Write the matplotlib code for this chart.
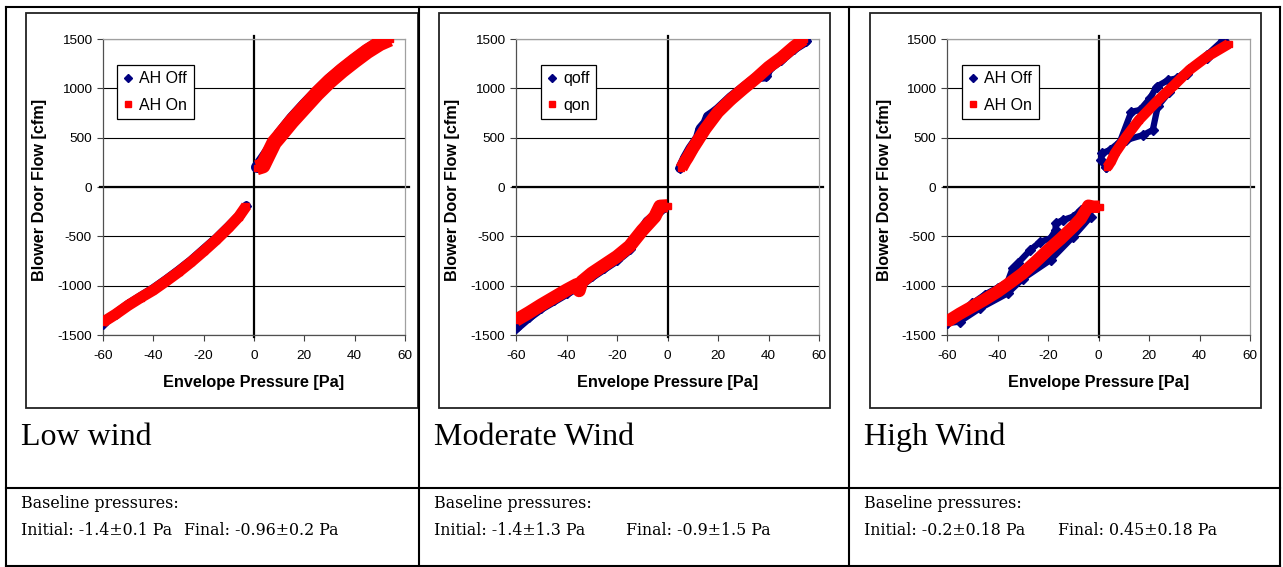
import numpy as np
import matplotlib
matplotlib.use("Agg")
import matplotlib.pyplot as plt
from matplotlib.lines import Line2D
from matplotlib.patches import Rectangle

nan = np.nan

# ---------------- data ----------------
x_ticks = [-60, -40, -20, 0, 20, 40, 60]
y_ticks = [-1500, -1000, -500, 0, 500, 1000, 1500]
x_label = "Envelope Pressure [Pa]"
y_label = "Blower Door Flow [cfm]"

captions = ["Low wind", "Moderate Wind", "High Wind"]
baseline_head = "Baseline pressures:"
initial_text = ["Initial: -1.4±0.1 Pa", "Initial: -1.4±1.3 Pa", "Initial: -0.2±0.18 Pa"]
final_text = ["Final: -0.96±0.2 Pa", "Final: -0.9±1.5 Pa", "Final: 0.45±0.18 Pa"]
legend_labels = [("AH Off", "AH On"), ("qoff", "qon"), ("AH Off", "AH On")]

# Low wind
low_off_p = [-60, -55, -50, -45, -40, -35, -30, -25, -20, -15, -10, -6, -3, nan,
             1, 3, 6, 10, 15, 20, 25, 30, 35, 40, 45, 50, 53]
low_off_q = [-1385, -1285, -1190, -1110, -1030, -940, -845, -745, -632, -520, -395, -292, -190, nan,
             200, 270, 380, 540, 700, 840, 970, 1095, 1200, 1300, 1395, 1475, 1500]
low_on_p = [-60, -55, -50, -45, -40, -35, -30, -25, -20, -15, -10, -6, -3, nan,
            1, 3.5, 5.5, 8, 10, 15, 20, 25, 30, 35, 40, 45, 50, 54]
low_on_q = [-1370, -1290, -1200, -1120, -1045, -955, -862, -760, -650, -535, -410, -300, -190, nan,
            195, 215, 320, 450, 510, 665, 805, 945, 1070, 1180, 1280, 1375, 1455, 1500]

# Moderate wind
mod_off_p = [-60, -55, -50, -45, -40, -35, -30, -25, -20, -15, -8, -5, -1, nan,
             5, 7, 9, 12, 13, 15, 16, 18, 20, 25, 30, 35, 39, 40, 45, 50, 55]
mod_off_q = [-1430, -1320, -1225, -1150, -1075, -1000, -905, -820, -735, -630, -350, -290, -200, nan,
             190, 300, 390, 500, 590, 650, 715, 750, 790, 910, 1010, 1110, 1120, 1200, 1290, 1400, 1480]
mod_on_p = [-60, -55, -50, -45, -40, -36, -35, -34, -30, -25, -20, -15, -10, -5, -3, 0, nan,
            5.5, 7, 8, 10, 12, 15, 20, 25, 30, 35, 40, 45, 50, 54]
mod_on_q = [-1350, -1275, -1195, -1120, -1045, -990, -1050, -960, -875, -790, -705, -600, -440, -300, -195, -190, nan,
            190, 260, 300, 390, 470, 590, 760, 885, 995, 1100, 1215, 1310, 1420, 1495]

# High wind
high_off_p = [-60, -55, -50, -45, -40, -36, -34, -32, -27, -23, -19, -17, -17, -14, -10, -7, -4,
              -3, -10, -19, -30, -36, -47, -55, -60, nan,
              3, 1, 1.3, 4.5, 8.5, 13, 16.4, 20.4, 23, 27.6, 31, 36, 43, 49.4,
              50.5, 43, 35, 28, 23.5, 21.5, 17.7, 11, 6, 3]
high_off_q = [-1380, -1300, -1180, -1090, -1020, -960, -824, -774, -638, -554, -520, -436, -368, -334, -300, -233, -199,
              -300, -503, -740, -930, -1078, -1230, -1365, -1380, nan,
              206, 274, 341, 375, 459, 763, 780, 899, 1017, 1084, 1101, 1200, 1340, 1490,
              1460, 1310, 1150, 960, 820, 578, 527, 476, 330, 200]
high_on_p = [-60, -55, -50, -45, -40, -35, -30, -25, -20, -15, -10, -7, -4, -2, 0.5, nan,
             3.5, 5, 6.5, 11, 16, 23, 30, 36, 43, 51.5]
high_on_q = [-1365, -1285, -1213, -1140, -1061, -970, -875, -760, -638, -525, -402, -320, -190, -200, -200, nan,
             200, 260, 341, 510, 679, 865, 1034, 1186, 1321, 1449]

series = [
    (low_off_p, low_off_q, low_on_p, low_on_q),
    (mod_off_p, mod_off_q, mod_on_p, mod_on_q),
    (high_off_p, high_off_q, high_on_p, high_on_q),
]

# ---------------- layout (pixels) ----------------
W, H = 1283, 567
plot_left = [103, 516, 947]
plot_right = [405, 819, 1250]
plot_top, plot_bot = 39, 335
frame_left = [26, 439, 870]
frame_right = [418, 830, 1261]
frame_top, frame_bot = 13, 408
legend_left = [117, 541, 962]
legend_top = 65
text_x = [21, 434, 864]
final_x = [184, 626, 1058]
# band widths (points): (off_neg, off_pos, on_neg, on_pos)
band_w = [(6.5, 8, 8, 11), (7, 7, 9.5, 9), (4.5, 4.5, 9, 7.5)]

NAVY = "#000080"
RED = "#FF0000"
SANS = ["Liberation Sans", "DejaVu Sans"]
SERIF = ["Liberation Serif", "DejaVu Serif"]
SMALL_SERIF = ["DejaVu Serif"]
plt.rcParams["font.family"] = SANS

fig = plt.figure(figsize=(W / 100, H / 100), dpi=100)


def fx(x):
    return x / W


def fy(y):
    return 1 - y / H


def fline(xs, ys, lw=1.5, color="black"):
    fig.add_artist(Line2D([fx(v) for v in xs], [fy(v) for v in ys], color=color, lw=lw,
                          transform=fig.transFigure, solid_capstyle="projecting"))


# table grid
fline([6, 1280], [7, 7])
fline([6, 1280], [488, 488])
fline([6, 1280], [566, 566])
for xv in [6, 419, 849, 1280]:
    fline([xv, xv], [7, 567])


def segments(p, q):
    p = np.asarray(p, float)
    q = np.asarray(q, float)
    idx = np.where(np.isnan(p))[0]
    starts = [0] + list(idx + 1)
    ends = list(idx) + [len(p)]
    return [(p[s:e], q[s:e]) for s, e in zip(starts, ends)]


for i in range(3):
    # chart frame
    fig.add_artist(Rectangle((fx(frame_left[i]), fy(frame_bot)),
                             (frame_right[i] - frame_left[i]) / W, (frame_bot - frame_top) / H,
                             transform=fig.transFigure, fill=False, ec="#222222", lw=1.3))
    l, r = plot_left[i], plot_right[i]
    ax = fig.add_axes([fx(l), fy(plot_bot), (r - l) / W, (plot_bot - plot_top) / H])
    ax.set_xlim(-60, 60)
    ax.set_ylim(-1500, 1500)
    ax.set_xticks(x_ticks)
    ax.set_yticks(y_ticks)
    ax.set_xticklabels([str(v) for v in x_ticks])
    ax.set_yticklabels([str(v) for v in y_ticks])
    ax.tick_params(axis="y", direction="out", length=4, width=0.8, color="#404040",
                   pad=4, labelsize=9.7)
    ax.tick_params(axis="x", direction="out", length=4, width=0.8, color="#404040",
                   pad=7, labelsize=9.7)
    for s in ["left", "bottom"]:
        ax.spines[s].set_color("#505050")
        ax.spines[s].set_linewidth(0.9)
    for s in ["top", "right"]:
        ax.spines[s].set_color("#a0a0a0")
        ax.spines[s].set_linewidth(0.9)
    ax.yaxis.grid(True, color="black", lw=0.8)
    ax.set_axisbelow(True)
    ax.axhline(0, xmin=-0.01, xmax=1.012, color="black", lw=1.6, clip_on=False, zorder=2)
    ax.axvline(0, ymin=-0.006, ymax=1.01, color="black", lw=1.6, clip_on=False, zorder=2)

    op, oq, np_, nq = series[i]
    wo_n, wo_p, wn_n, wn_p = band_w[i]
    for k, (sp, sq) in enumerate(segments(op, oq)):
        ax.plot(sp, sq, color=NAVY, lw=(wo_n if k == 0 else wo_p), marker="D", ms=5,
                solid_joinstyle="round", solid_capstyle="round", zorder=3)
    for k, (sp, sq) in enumerate(segments(np_, nq)):
        ax.plot(sp, sq, color=RED, lw=(wn_n if k == 0 else wn_p), marker="s", ms=5,
                solid_joinstyle="round", solid_capstyle="butt", zorder=4)

    handles = [Line2D([], [], marker="D", color=NAVY, ls="none", ms=4),
               Line2D([], [], marker="s", color=RED, ls="none", ms=4)]
    lx = (legend_left[i] - l) / (r - l)
    ly = (plot_bot - legend_top) / (plot_bot - plot_top)
    leg = ax.legend(handles, legend_labels[i], loc="upper left", bbox_to_anchor=(lx, ly),
                    borderaxespad=0, fancybox=False, edgecolor="black", framealpha=1,
                    fontsize=11.5, handlelength=0.6, handletextpad=0.4, borderpad=0.4,
                    labelspacing=0.7)
    leg.get_frame().set_linewidth(0.9)
    leg.set_zorder(6)

    ax.text(0.5, -(383 - plot_bot) / (plot_bot - plot_top), x_label, transform=ax.transAxes,
            ha="center", va="center", fontsize=11.7, fontweight="bold")
    ax.text(-63 / (r - l), (plot_bot - 190) / (plot_bot - plot_top), y_label, transform=ax.transAxes,
            ha="center", va="center", rotation=90, fontsize=11.7, fontweight="bold")

    # table text
    fig.text(fx(text_x[i]), fy(445), captions[i], fontsize=23, family=SERIF, va="baseline")
    fig.text(fx(text_x[i]), fy(508), baseline_head, fontsize=11.4, family=SMALL_SERIF, va="baseline")
    fig.text(fx(text_x[i]), fy(535), initial_text[i], fontsize=11.4, family=SMALL_SERIF, va="baseline")
    fig.text(fx(final_x[i]), fy(535), final_text[i], fontsize=11.4, family=SMALL_SERIF, va="baseline")

fig.savefig("out.png", dpi=100)
